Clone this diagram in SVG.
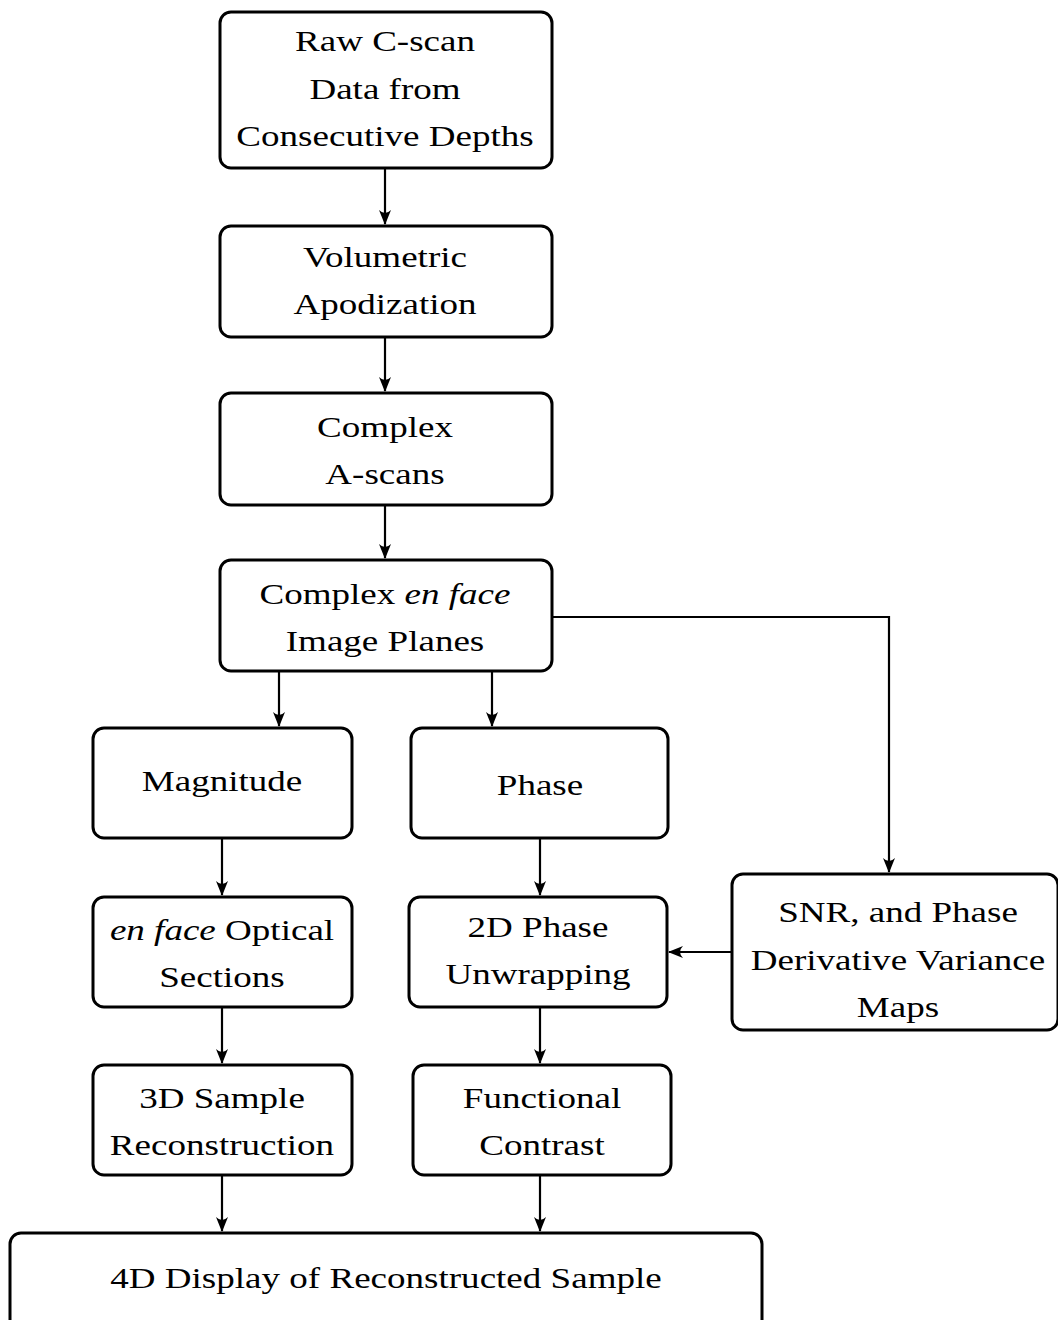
<svg xmlns="http://www.w3.org/2000/svg" width="1058" height="1320" viewBox="0 0 1058 1320">
<style>
.box{fill:#fff;stroke:#000;stroke-width:3}
.t{font-family:"Liberation Serif","Times New Roman",serif;font-size:28.5px;fill:#000;text-anchor:middle}
.i{font-style:italic}
.c{fill:none;stroke:#000;stroke-width:2.2}
</style>
<defs>
<marker id="ah" markerUnits="userSpaceOnUse" markerWidth="20" markerHeight="16" viewBox="-18 -8 20 16" refX="0" refY="0" orient="auto">
<path d="M1,0 L-14,-6 Q-8,0 -14,6 Z" fill="#000"/>
</marker>
</defs>
<rect width="1058" height="1320" fill="#fff"/>
<g id="connectors">
<line class="c" x1="385" y1="169" x2="385" y2="224" marker-end="url(#ah)"/>
<line class="c" x1="385" y1="338" x2="385" y2="391" marker-end="url(#ah)"/>
<line class="c" x1="385" y1="506" x2="385" y2="558" marker-end="url(#ah)"/>
<line class="c" x1="279" y1="672" x2="279" y2="726" marker-end="url(#ah)"/>
<line class="c" x1="492" y1="672" x2="492" y2="726" marker-end="url(#ah)"/>
<polyline class="c" points="553,617 889,617 889,872" marker-end="url(#ah)"/>
<line class="c" x1="222" y1="839" x2="222" y2="895" marker-end="url(#ah)"/>
<line class="c" x1="540" y1="839" x2="540" y2="895" marker-end="url(#ah)"/>
<line class="c" x1="731" y1="952" x2="669" y2="952" marker-end="url(#ah)"/>
<line class="c" x1="222" y1="1008" x2="222" y2="1063" marker-end="url(#ah)"/>
<line class="c" x1="540" y1="1008" x2="540" y2="1063" marker-end="url(#ah)"/>
<line class="c" x1="222" y1="1176" x2="222" y2="1231" marker-end="url(#ah)"/>
<line class="c" x1="540" y1="1176" x2="540" y2="1231" marker-end="url(#ah)"/>
</g>
<g id="raw">
<rect class="box" x="220" y="12" width="332" height="156" rx="11"/>
<text class="t" transform="translate(385 51) scale(1.3 1)">Raw C-scan</text>
<text class="t" transform="translate(385 99) scale(1.3 1)">Data from</text>
<text class="t" transform="translate(385 146) scale(1.3 1)">Consecutive Depths</text>
</g>
<g id="apod">
<rect class="box" x="220" y="226" width="332" height="111" rx="11"/>
<text class="t" transform="translate(385 267) scale(1.3 1)">Volumetric</text>
<text class="t" transform="translate(385 314) scale(1.3 1)">Apodization</text>
</g>
<g id="ascans">
<rect class="box" x="220" y="393" width="332" height="112" rx="11"/>
<text class="t" transform="translate(385 437) scale(1.3 1)">Complex</text>
<text class="t" transform="translate(385 484) scale(1.3 1)">A-scans</text>
</g>
<g id="enface">
<rect class="box" x="220" y="560" width="332" height="111" rx="11"/>
<text class="t" transform="translate(385 604) scale(1.3 1)">Complex <tspan class="i">en face</tspan></text>
<text class="t" transform="translate(385 651) scale(1.3 1)">Image Planes</text>
</g>
<g id="magnitude">
<rect class="box" x="93" y="728" width="259" height="110" rx="11"/>
<text class="t" transform="translate(222 791) scale(1.3 1)">Magnitude</text>
</g>
<g id="phase">
<rect class="box" x="411" y="728" width="257" height="110" rx="11"/>
<text class="t" transform="translate(540 795) scale(1.3 1)">Phase</text>
</g>
<g id="optical">
<rect class="box" x="93" y="897" width="259" height="110" rx="11"/>
<text class="t" transform="translate(222 940) scale(1.3 1)"><tspan class="i">en face</tspan> Optical</text>
<text class="t" transform="translate(222 987) scale(1.3 1)">Sections</text>
</g>
<g id="unwrap">
<rect class="box" x="409" y="897" width="258" height="110" rx="11"/>
<text class="t" transform="translate(538 937) scale(1.3 1)">2D Phase</text>
<text class="t" transform="translate(538 984) scale(1.3 1)">Unwrapping</text>
</g>
<g id="snr">
<rect class="box" x="732" y="874" width="326" height="156" rx="11"/>
<text class="t" transform="translate(898 922) scale(1.3 1)">SNR, and Phase</text>
<text class="t" transform="translate(898 970) scale(1.3 1)">Derivative Variance</text>
<text class="t" transform="translate(898 1017) scale(1.3 1)">Maps</text>
</g>
<g id="recon">
<rect class="box" x="93" y="1065" width="259" height="110" rx="11"/>
<text class="t" transform="translate(222 1108) scale(1.3 1)">3D Sample</text>
<text class="t" transform="translate(222 1155) scale(1.3 1)">Reconstruction</text>
</g>
<g id="contrast">
<rect class="box" x="413" y="1065" width="258" height="110" rx="11"/>
<text class="t" transform="translate(542 1108) scale(1.3 1)">Functional</text>
<text class="t" transform="translate(542 1155) scale(1.3 1)">Contrast</text>
</g>
<g id="display">
<rect class="box" x="10" y="1233" width="752" height="110" rx="11"/>
<text class="t" transform="translate(386 1288) scale(1.3 1)">4D Display of Reconstructed Sample</text>
</g>
</svg>
